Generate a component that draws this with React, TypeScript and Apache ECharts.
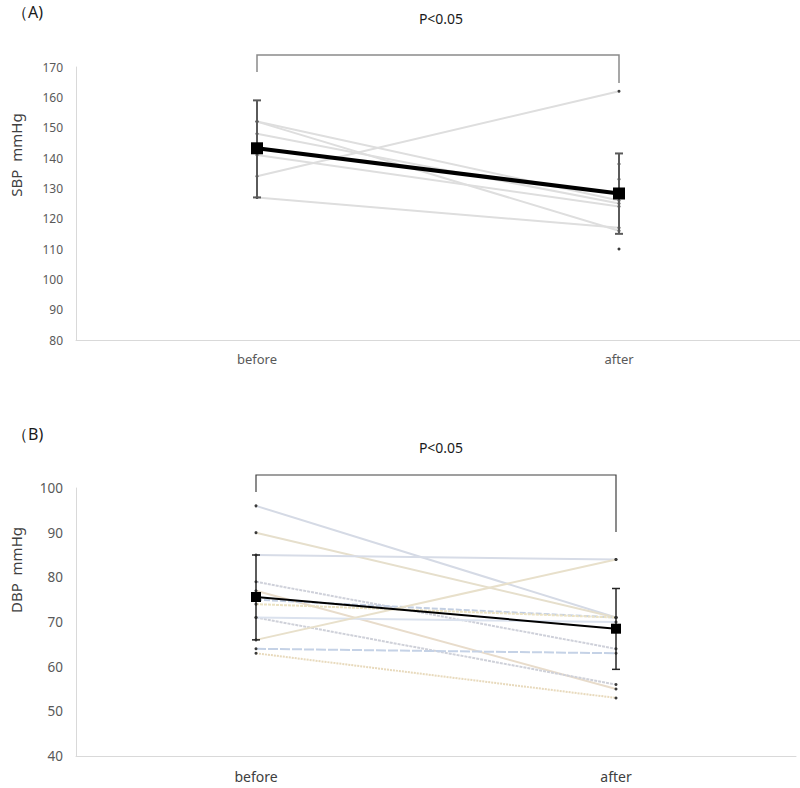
import React, { useEffect, useRef } from "react";
import * as echarts from "echarts";

const categories = ["before", "after"];

// SBP (A)
const sbpTicks = { min: 80, max: 170, interval: 10 };
const sbpSubjects: (number | null)[][] = [
  [152, 116],
  [152, 126],
  [148, 125],
  [141, 124],
  [134, 162],
  [127, 117],
  [null, 138],
  [null, 133],
  [null, 110],
];
const sbpMean = [143.2, 128.3];
const sbpLow = [127, 115];
const sbpHigh = [159, 141.5];

// DBP (B)
const dbpTicks = { min: 40, max: 100, interval: 10 };
const dbpSubjects: (number | null)[][] = [
  [96, 71],
  [90, 71],
  [85, 84],
  [79, 64],
  [77, 55],
  [75, 71],
  [74, 71],
  [71, 56],
  [71, 70],
  [66, 84],
  [64, 63],
  [63, 53],
];
const dbpMean = [75.6, 68.5];
const dbpLow = [66, 59.4];
const dbpHigh = [85, 77.5];

// styles (kept apart from data)
const sbpLineColor = "#dedede";
const dbpStyles = [
  { color: "#d5dae5", type: "solid" },
  { color: "#e6dfcc", type: "solid" },
  { color: "#d7dce7", type: "solid" },
  { color: "#cfd1da", type: [3, 1] },
  { color: "#e8dccb", type: "solid" },
  { color: "#c3cfe2", type: [6, 2] },
  { color: "#ebe2c3", type: [3, 1] },
  { color: "#cfd1d9", type: [3, 1] },
  { color: "#dbe2ee", type: "solid" },
  { color: "#e8e0cb", type: "solid" },
  { color: "#c5d2e6", type: [10, 2] },
  { color: "#e8dabd", type: [2, 1] },
];

const FONT = "'Noto Sans', 'Open Sans', sans-serif";

function errorBarSeries(
  gridIdx: number,
  low: number[],
  high: number[],
  color: string,
  width: number,
  capHalf: number
) {
  return {
    type: "custom",
    xAxisIndex: gridIdx,
    yAxisIndex: gridIdx,
    z: 3,
    silent: true,
    data: low.map((l, i) => [i, l, high[i]]),
    renderItem: (params: any, api: any) => {
      const i = api.value(0);
      const lo = api.coord([i, api.value(1)]);
      const hi = api.coord([i, api.value(2)]);
      const st = { stroke: color, lineWidth: width };
      return {
        type: "group",
        children: [
          { type: "line", shape: { x1: lo[0], y1: lo[1], x2: hi[0], y2: hi[1] }, style: st },
          { type: "line", shape: { x1: hi[0] - capHalf, y1: hi[1], x2: hi[0] + capHalf, y2: hi[1] }, style: st },
          { type: "line", shape: { x1: lo[0] - capHalf, y1: lo[1], x2: lo[0] + capHalf, y2: lo[1] }, style: st },
        ],
      };
    },
  };
}

export default function App() {
  const ref = useRef<HTMLDivElement>(null);

  useEffect(() => {
    if (!ref.current) return;
    const chart = echarts.init(ref.current, null, { renderer: "svg" });

    const axisLabel = { color: "#595959", fontSize: 12, fontFamily: FONT };
    const xAxisBase = {
      type: "category",
      data: categories,
      boundaryGap: true,
      axisLine: { show: true, lineStyle: { color: "#d9d9d9", width: 1 } },
      axisTick: { show: false },
      splitLine: { show: false },
    };
    const yAxisBase = {
      type: "value",
      axisLine: { show: true, lineStyle: { color: "#d9d9d9", width: 1 } },
      axisTick: { show: false },
      splitLine: { show: false },
    };

    const series: any[] = [];
    sbpSubjects.forEach((s) => {
      series.push({
        type: "line",
        xAxisIndex: 0,
        yAxisIndex: 0,
        data: s,
        z: 2,
        symbol: "circle",
        symbolSize: 3,
        showSymbol: true,
        lineStyle: { color: sbpLineColor, width: 2 },
        itemStyle: { color: "#3a3a3a" },
        connectNulls: false,
      });
    });
    series.push(errorBarSeries(0, sbpLow, sbpHigh, "#5a5a5a", 2, 4));
    series.push({
      type: "line",
      xAxisIndex: 0,
      yAxisIndex: 0,
      data: sbpMean,
      z: 5,
      symbol: "rect",
      symbolSize: 12,
      lineStyle: { color: "#000000", width: 4 },
      itemStyle: { color: "#000000" },
    });

    dbpSubjects.forEach((s, i) => {
      const st = dbpStyles[i];
      series.push({
        type: "line",
        xAxisIndex: 1,
        yAxisIndex: 1,
        data: s,
        z: 2,
        symbol: "circle",
        symbolSize: 3,
        showSymbol: true,
        lineStyle: { color: st.color, width: 2, type: st.type },
        itemStyle: { color: "#3a3a3a" },
      });
    });
    series.push(errorBarSeries(1, dbpLow, dbpHigh, "#262626", 1.5, 4));
    series.push({
      type: "line",
      xAxisIndex: 1,
      yAxisIndex: 1,
      data: dbpMean,
      z: 5,
      symbol: "rect",
      symbolSize: 10,
      lineStyle: { color: "#000000", width: 2 },
      itemStyle: { color: "#000000" },
    });

    const option: any = {
      animation: false,
      backgroundColor: "#ffffff",
      grid: [
        { left: 76, top: 67, right: 0, height: 273 },
        { left: 76, top: 488, right: 4, height: 268 },
      ],
      xAxis: [
        { ...xAxisBase, gridIndex: 0, axisLabel: { ...axisLabel, fontSize: 13, margin: 12 } },
        { ...xAxisBase, gridIndex: 1, axisLabel: { ...axisLabel, color: "#404040", fontSize: 14, margin: 13 } },
      ],
      yAxis: [
        { ...yAxisBase, gridIndex: 0, ...sbpTicks, axisLabel: { ...axisLabel, fontSize: 12, margin: 13 } },
        { ...yAxisBase, gridIndex: 1, ...dbpTicks, axisLabel: { ...axisLabel, fontSize: 13.5, margin: 13 } },
      ],
      series,
    };
    chart.setOption(option);

    // annotations positioned from the axes
    const px = (g: number, idx: number, v: number) =>
      chart.convertToPixel({ gridIndex: g } as any, [idx, v]) as number[];
    const aB = px(0, 0, sbpTicks.max);
    const aA = px(0, 1, sbpTicks.max);
    const bB = px(1, 0, dbpTicks.max);
    const bA = px(1, 1, dbpTicks.max);

    const bracket = (b: number[], a: number[], dy: number, leftDown: number, rightDown: number, color: string, w: number) => {
      const y = b[1] + dy;
      return {
        type: "polyline",
        shape: {
          points: [
            [b[0], y + leftDown],
            [b[0], y],
            [a[0], y],
            [a[0], y + rightDown],
          ],
        },
        style: { stroke: color, lineWidth: w, fill: null },
        silent: true,
      };
    };
    const txt = (x: number, y: number, text: string, size: number, align = "center", color = "#1a1a1a", rotation = 0) => ({
      type: "text",
      x,
      y,
      rotation,
      style: {
        text,
        fill: color,
        font: `${size}px ${FONT}`,
        textAlign: align,
        textVerticalAlign: "middle",
      },
      silent: true,
    });

    chart.setOption({
      graphic: [
        bracket(aB, aA, -12, 17, 28, "#8a8a8a", 1.5),
        bracket(bB, bA, -13, 17, 57, "#404040", 1.2),
        txt((aB[0] + aA[0]) / 2 + 3, 18, "P<0.05", 14),
        txt((bB[0] + bA[0]) / 2 + 5, 447, "P<0.05", 14),
        txt(12, 12, "（A)", 16, "left"),
        txt(12, 434, "（B)", 16, "left"),
        txt(16, 155, "SBP  mmHg", 15, "center", "#404040", Math.PI / 2),
        txt(16, 570, "DBP  mmHg", 15, "center", "#404040", Math.PI / 2),
      ],
    });

    return () => chart.dispose();
  }, []);

  return (
    <div
      ref={ref}
      style={{ position: "absolute", left: 0, top: 0, width: 800, height: 788, background: "#fff" }}
    />
  );
}
